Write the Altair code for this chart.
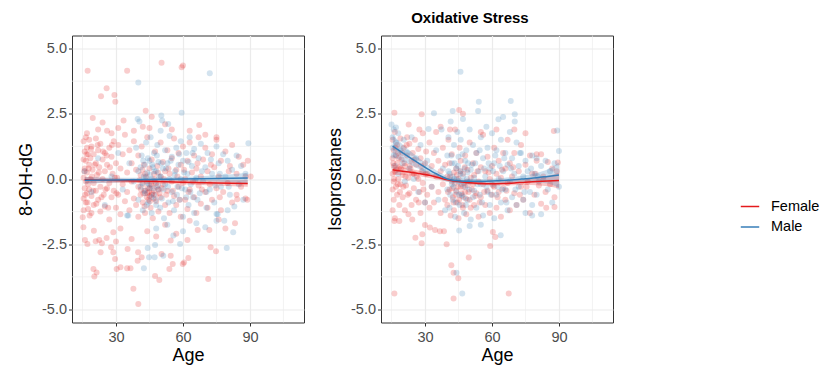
import altair as alt
import pandas as pd

SEXES = ["Female", "Male"]
SEX_COLORS = ["#E41A1C", "#377EB8"]

MAJOR_X = [30, 60, 90]
MINOR_X = [15, 45, 75, 105]
MAJOR_Y = [-5.0, -2.5, 0.0, 2.5, 5.0]
MINOR_Y = [-3.75, -1.25, 1.25, 3.75]

# ---------- 8-OH-dG panel: (age, value) ----------
ohdg_female = [
    (15.5, 1.45), (15.5, 0.75), (15.5, 0.05), (15.5, -0.75), (15.5, -1.2), (16, 1.05), (16, 0.4), (16, -0.35),
    (16.5, 1.6), (16.5, 0.7), (16.5, -0.1), (16.5, -0.9), (17, 1.2), (17, 0.25), (17, -0.55), (17.5, 0.95),
    (17.5, -0.2), (17.5, -1.15), (18, 1.5), (18, 0.55), (18, -0.4), (18.5, 0.8), (18.5, 0.0), (19, 1.25),
    (19, -0.65), (19, -1.3), (19.5, 0.35), (20, 0.95), (20, -0.15), (20, -1.0), (21, 1.55), (21, 0.6),
    (21, -0.45), (21.5, 0.15), (22, 1.1), (22, -0.8), (22.5, 0.45), (23, 1.35), (23, -0.3), (23, -1.25),
    (24, 0.75), (24, 0.0), (24.5, -0.6), (25, 1.0), (25, 0.3), (25, -1.05), (26, 1.85), (26, 0.55),
    (26, -0.35), (27, 1.2), (27, -0.15), (27, -1.55), (28, 0.85), (28, -0.7), (28.5, 0.2), (29, 1.45),
    (29, -0.45), (30, 0.6), (30, -1.1), (30.5, 0.05), (31, 1.3), (31, -0.6), (32, 0.4), (32, -1.35),
    (33, 0.95), (33, -0.2), (34, 1.7), (34, -0.85), (35, 0.25), (35, -0.5), (36, 1.1), (36, -1.2),
    (37, 0.6), (37, -0.1), (38, 1.45), (38, -0.75), (39, 0.35), (39, -1.0), (40, 0.9), (40, -0.3),
    (40, -1.45), (41, 0.15), (41, -0.6), (41.5, 1.25), (42, -0.2), (42, -0.9), (42.5, 0.55), (43, -0.45),
    (43, -1.3), (43.5, 0.1), (44, 1.6), (44, -0.55), (44, -0.1), (44.5, -0.8), (45, 0.4), (45, -0.35),
    (45, -0.65), (45.5, -1.1), (46, 0.75), (46, -0.25), (46, -0.6), (46.5, -1.5), (47, 0.2), (47, -0.45),
    (47.5, 1.05), (48, -0.15), (48, -0.85), (48.5, 0.5), (49, -0.4), (49, -1.25), (50, 1.4), (50, 0.1),
    (50, -0.7), (51, 0.65), (51, -0.2), (52, -1.0), (52, 0.3), (53, 1.1), (53, -0.45), (54, 0.2),
    (54, -1.3), (55, 0.8), (55, -0.1), (56, 1.55), (56, -0.65), (57, 0.35), (57, -1.0), (58, 1.0),
    (58, -0.3), (59, 0.55), (59, -1.45), (60, 1.25), (60, -0.15), (61, 0.0), (61, -0.8), (62, 0.7),
    (62, -1.15), (63, 1.4), (63, -0.4), (64, 0.25), (65, -0.7), (65, 0.9), (66, -1.3), (66, 0.4),
    (67, 1.6), (67, -0.25), (68, 0.1), (68, -0.95), (69, 0.75), (70, -0.5), (70, 1.2), (71, 0.3),
    (71, -1.1), (72, -0.2), (73, 0.95), (73, -0.8), (74, 0.45), (75, -0.35), (75, 1.5), (76, 0.1),
    (77, -1.2), (77, 0.7), (78, -0.5), (79, 1.05), (80, -0.15), (81, 0.5), (82, -0.9), (82, 1.3),
    (84, 0.2), (84, -0.6), (85, 0.85), (86, -0.3), (87, 0.55), (88, 0.1), (88, -0.75), (89, 0.7),
    (17.3, 4.15), (35, 4.15), (50.4, 4.46), (59.4, 4.28), (60, 4.35), (25.8, 3.48), (23.3, 3.17), (29.3, 3.22),
    (29.7, 2.96), (43.3, 2.62), (19.6, 2.34), (24, 2.17), (46, 2.39), (67.3, 2.07), (33.4, 2.24), (90.3, 0.1),
    (40, -4.79), (37.8, -4.21), (20.3, -3.74), (19.9, -3.45), (21.3, -3.58), (30.3, -3.45), (32, -3.38), (35, -3.42),
    (36.5, -3.42), (47.5, -3.72), (49.4, -3.87), (71.3, -3.83), (53.9, -3.45), (55.4, -3.26), (59.9, -3.26), (60.5, -3.2),
    (62.4, -3.03), (29.6, -3.07), (39.7, -3.13), (41.5, -3.0), (50.4, -2.87), (54.5, -2.94), (28.8, -2.81), (23.1, -2.81),
    (27.8, -2.62), (35.2, -2.68), (39.9, -2.81), (62, -2.34), (72.4, -2.62), (74.8, -2.77), (22.5, -2.34), (23.7, -2.46),
    (20.9, -2.39), (17.2, -2.49), (16.1, -2.34), (25.8, -2.26), (20.1, -1.98), (15.4, -1.85), (15.1, -1.47), (28.8, -2.04),
    (54.5, -2.36), (83.3, -1.7), (71.8, -1.95), (66.6, -1.95), (88.8, -0.8), (84.3, -0.78), (32, -1.9), (44, -2.0),
    (52, -1.75), (63, -1.6), (76, -1.55), (79, -1.9), (57, -2.1), (48, -2.2), (37, -2.3), (30, -2.4),
    (22, 1.9), (28, 1.75), (38, 1.85), (42, 2.0), (55, 1.9), (63, 1.85), (70, 1.7), (75, 1.6),
    (52, 2.1), (31, 1.95), (17, 1.75), (45, 1.95),
]
ohdg_female_core = [
    (15.8, 0.3), (16.2, -0.6), (16.8, 0.95), (17.2, -0.9), (17.8, 0.4), (18.2, -1.4), (18.8, 1.15), (19.2, 0.1),
    (19.8, -0.45), (20.5, 0.55), (21.2, -0.95), (21.8, 1.3), (22.3, 0.25), (23.5, -0.7), (24.2, 1.05), (25.3, -0.4),
    (25.8, 0.9), (26.5, -1.1), (27.3, 0.45), (28.2, 1.3), (29.5, 0.05), (30.2, -0.55),
    (40.5, -0.05), (41.2, -0.4), (41.8, 0.35), (42.3, -0.55), (42.8, -1.05), (43.2, 0.2), (43.8, -0.7), (44.2, -0.35),
    (44.7, -0.5), (45.2, -0.85), (45.7, -0.2), (46.2, -0.55), (46.8, -0.75), (47.2, 0.0), (47.8, -0.6), (48.3, -0.3),
    (48.8, 0.25), (49.5, -0.55), (50.5, -0.35), (51.5, 0.0), (52.5, -0.6), (53.5, 0.4), (55.5, -0.45), (57.5, 0.1),
    (58.5, -0.8), (60.5, 0.35), (62.5, -0.5), (64.5, -0.1), (66.5, 0.6), (68.5, -0.4), (72.5, 0.55), (76.5, -0.7),
    (80.5, 0.3),
]

ohdg_male = [
    (16, 0.3), (19, -0.5), (22, 0.8), (25, -1.0), (28, 0.1), (31, 1.0), (33, -0.4), (35, -1.4),
    (36, 0.6), (38, -0.1), (39, 1.2), (40, -0.8), (40, 0.3), (41, -0.3), (41.5, 0.9), (42, -1.2),
    (42.5, 0.1), (43, 0.55), (43, -0.55), (43.5, 1.4), (44, -0.15), (44, 0.25), (44.5, -0.9), (45, 0.7),
    (45, -0.35), (45.5, 1.6), (46, 0.0), (46, -1.3), (46.5, 0.45), (47, -0.6), (47, 1.0), (47.5, -0.1),
    (48, 0.3), (48, -1.0), (48.5, 1.3), (49, -0.4), (49, 0.65), (50, 0.1), (50, 1.85), (50.5, -0.75),
    (51, 0.4), (51.5, -1.5), (52, 1.1), (52, -0.2), (53, 0.6), (53.5, -0.9), (54, 1.65), (54, 0.0),
    (55, -0.5), (55, 0.85), (56, -1.2), (56.5, 0.3), (57, 1.2), (57.5, -0.3), (58, 0.55), (58.5, -0.8),
    (59, 1.45), (59, 0.0), (60, -1.45), (60, 0.7), (61, -0.4), (61.5, 1.0), (62, 0.2), (62.5, -1.0),
    (63, 1.6), (63.5, -0.2), (64, 0.5), (64.5, -0.7), (65, 1.15), (65, -1.3), (66, 0.05), (67, 0.8),
    (67.5, -0.55), (68, 1.35), (69, -0.1), (70, 0.45), (70.5, -1.1), (71, 1.0), (72, -0.4), (73, 0.2),
    (74, -0.9), (75, 1.25), (75.5, -1.35), (76, 0.6), (77, -0.3), (78, 0.95), (78.5, -1.6), (79, 0.1),
    (80, 0.7), (81, -0.6), (82, 0.35), (83, -1.05), (84, 0.9), (85, -0.2), (86, 0.5), (87, -0.8),
    (88, 0.2),
    (72, 4.05), (40, 3.7), (39.7, 2.3), (40.5, 2.2), (59.4, 2.54), (50.3, 2.43), (50.7, 2.24), (53.4, 2.11),
    (89.3, 1.37), (42.5, -3.42), (44.8, -3.0), (47.3, -3.0), (51.2, -2.94), (44.2, -2.64), (47.5, -2.53), (58.7, -2.49),
    (79.6, -2.64), (55.7, -2.17), (82.5, -2.04), (35.5, -1.4), (75, -1.34), (66, -1.7), (70, -1.85), (48, -1.9),
    (53, -1.75), (60, -2.0), (75, -1.6), (80, -1.2),
]
ohdg_male_core = [
    (41, 0.45), (41.8, -0.15), (42.2, 0.7), (42.7, -0.45), (43.3, 0.05), (43.7, -1.0), (44.3, 0.8), (44.8, -0.2),
    (45.3, 0.15), (45.8, -0.7), (46.3, 0.55), (46.8, -0.35), (47.3, 0.3), (47.8, -0.8), (48.3, 0.9), (48.8, -0.25),
    (49.3, 0.1), (49.8, -1.1), (50.3, 0.6), (51.3, -0.4), (52.5, 0.4), (53.3, -0.3), (54.5, 0.7), (55.5, -0.85),
    (56.3, 0.15), (57.3, -0.6), (58.3, 0.95), (59.5, -0.35), (60.5, 0.25), (61.5, -0.7), (62.5, 0.65), (63.3, -0.5),
    (64.3, 1.0), (65.5, -0.05), (66.5, -0.8), (68.5, 0.3), (70.5, -0.5), (72.5, 0.75), (74.5, -0.25), (76.5, 0.2),
    (80.5, -0.3),
]

# ---------- Isoprostanes panel: (age, value) ----------
iso_female = [
    (15.5, 1.5), (15.5, 0.8), (15.5, 0.2), (15.5, -0.4), (15.5, -1.2), (16, 1.1), (16, 0.5), (16, -0.1),
    (16, -0.8), (16.5, 1.8), (16.5, 0.3), (16.5, -1.5), (17, 0.9), (17, -0.3), (17.5, 1.3), (17.5, 0.6),
    (17.5, -0.6), (18, 0.0), (18, 1.0), (18.5, -1.0), (18.5, 0.45), (19, 1.55), (19, -0.2), (19.5, 0.75),
    (20, -0.7), (20, 0.15), (20.5, 1.2), (21, 0.5), (21, -1.2), (21.5, -0.25), (22, 0.9), (22, 1.6),
    (22.5, 0.05), (23, -0.55), (23, 1.35), (23.5, 0.4), (24, -1.0), (24, 0.7), (24.5, 1.0), (25, -0.35),
    (25, 0.2), (25.5, 1.5), (26, -0.8), (26, 0.55), (27, 0.0), (27, 1.15), (27.5, -0.5), (28, 0.8),
    (28, -1.3), (28.5, 0.3), (29, 1.75), (29, -0.15), (30, 0.6), (30, -0.9), (30.5, 1.05), (31, 0.2),
    (31, -0.6), (32, 1.4), (32, -1.1), (33, 0.5), (33, -0.3), (34, 1.0), (34, -0.9), (35, 0.1),
    (35, 1.8), (36, -0.5), (36, 0.7), (37, -1.3), (37, 0.3), (38, 1.2), (38, -0.2), (39, -0.8),
    (39, 0.55), (40, 0.1), (40, -1.0), (40.5, 1.5), (41, -0.4), (41, 0.6), (41.5, -1.4), (42, -0.1),
    (42, 0.95), (42.5, -0.7), (43, 0.25), (43, -1.2), (43.5, 1.9), (44, -0.45), (44, 0.4), (44.5, -0.9),
    (45, 0.0), (45, -1.5), (45.5, 1.2), (46, -0.3), (46, 0.7), (46.5, -0.65), (47, 0.2), (47, -1.1),
    (47.5, -0.15), (48, 0.9), (48, -0.5), (48.5, -1.35), (49, 0.35), (49, -0.25), (50, 1.4), (50, -0.8),
    (50.5, 0.05), (51, -0.4), (51.5, 0.6), (52, -1.0), (52, 0.15), (53, 1.0), (53, -0.55), (54, -0.1),
    (54, -1.45), (55, 0.45), (55, -0.7), (56, 1.7), (56, -0.2), (57, -1.0), (57, 0.3), (58, -0.45),
    (58, 0.85), (59, -1.3), (59, 0.0), (60, 0.5), (60, -0.6), (61, 1.2), (61, -0.3), (62, -1.1),
    (62, 0.2), (63, 0.7), (63, -0.5), (64, -1.45), (64, 0.05), (65, 1.0), (65, -0.35), (66, -0.8),
    (66, 0.4), (67, 1.5), (67, -0.15), (68, -1.2), (68, 0.6), (69, 0.1), (70, -0.55), (70, 1.0),
    (71, -1.0), (72, 0.3), (73, -0.3), (73, 1.3), (74, -0.8), (75, 0.55), (76, -0.1), (77, -1.3),
    (77, 0.9), (78, 0.2), (79, -0.6), (80, 0.7), (81, -0.25), (82, 0.95), (82, -0.95), (83, 0.1),
    (84, -0.5), (85, 0.65), (86, -0.2), (87, 0.4), (88, -0.7), (89, 0.3),
    (16.3, -4.39), (42.8, -4.58), (67.5, -4.39), (41.8, -3.31), (42.8, -3.59), (44.9, -3.8), (49.6, -3.01), (39.7, -2.5),
    (59.2, -2.57), (60.4, -2.03), (61.5, -2.22), (25.7, -2.25), (28.8, -2.12), (28.5, -2.46), (16.3, -1.61), (18.5, -1.61),
    (22.6, -1.35), (24.3, -1.55), (30, -1.76), (32.2, -1.86), (34.5, -1.95), (36.7, -2.0), (38.5, -2.0), (45.3, 2.64),
    (16.3, 2.54), (28.5, 2.48), (87.7, 1.84), (89.5, 0.63), (88, -1.07), (84.3, -1.1), (22.7, 2.09), (27.5, 1.9),
    (41.2, 1.9), (47, 2.5), (55, 1.8), (62, 1.9), (70, 1.9), (75, 1.75), (80, 0.95), (37, 2.0),
]
iso_female_core = [
    (15.8, 0.6), (16.2, 0.0), (16.8, 1.2), (17.2, 0.35), (17.8, -0.2), (18.2, 0.8), (18.8, -0.5), (19.2, 0.4),
    (19.8, 1.0), (20.3, -0.3), (20.8, 0.6), (21.3, 0.1), (21.8, 1.3), (22.3, -0.6), (23.2, 0.5), (24.3, 0.2),
    (25.2, 0.75), (26.3, 0.1), (27.2, -0.9), (28.3, 0.5), (29.3, -0.4), (30.3, 0.2),
    (40.3, -0.5), (41.3, 0.1), (42.3, -0.35), (42.8, -0.9), (43.3, -0.15), (43.8, -0.6), (44.3, 0.15), (44.8, -0.3),
    (45.3, -0.8), (45.8, 0.3), (46.3, -0.55), (46.8, -1.0), (47.3, -0.3), (47.8, 0.45), (48.3, -0.75), (48.8, -0.1),
    (49.5, -0.5), (50.5, -1.1), (51.5, -0.2), (52.5, -0.65), (53.5, 0.3), (54.5, -0.9), (56.5, -0.5), (58.5, 0.25),
    (60.5, -0.25), (62.5, -0.7), (64.5, 0.35), (66.5, -0.45), (69.5, 0.45), (72.5, -0.6), (75.5, -0.3), (79.5, 0.2),
]

iso_male = [
    (15, 2.09), (17, 1.97), (15.5, 1.6), (15.5, 1.2), (16, 0.9), (16, 1.9), (16.5, 0.5), (17, 1.4),
    (18, 0.2), (18, 1.75), (19, 1.1), (20, 0.6), (20.5, 1.5), (21, -0.1), (22, 1.0), (23, 0.4),
    (24, 1.6), (25, 0.0), (26, 0.8), (27, -0.5), (28, 1.3), (29, 0.3), (30, -0.9), (31.6, 1.92),
    (31, 0.7), (33, -0.3), (34, 2.52), (35, 1.1), (36, -0.8), (37.4, 1.9), (38, 0.4), (39, -1.2),
    (40, 0.9), (40, -0.4), (40.5, 1.6), (41, 0.2), (41, -1.1), (41.5, 2.2), (42, -0.2), (42, 0.6),
    (42.4, 2.61), (42.5, -0.8), (43, 1.3), (43, 0.0), (43.5, -1.45), (44, 0.4), (44, -0.5), (44.5, 1.8),
    (45, -0.1), (45, 0.85), (45.5, -1.0), (46, 0.3), (46, 1.5), (46.5, -0.6), (47, 0.1), (47, 2.3),
    (47.5, -1.3), (48, 0.7), (48, -0.3), (48.5, 1.1), (49, -0.8), (49, 0.25), (50, 1.9), (50, -0.1),
    (50.5, -1.55), (51, 0.55), (51.5, 1.3), (52, -0.45), (52, 0.05), (53, 1.0), (53, -1.1), (53.8, 2.61),
    (54, 0.3), (54.1, 2.96), (54.5, -0.6), (55, 1.6), (55, -0.2), (56, 0.8), (56, -1.4), (57, 0.1),
    (57.5, 2.0), (58, -0.5), (58, 1.2), (59, 0.4), (59, -1.0), (60, 1.75), (60, -0.2), (61, 0.6),
    (61, -1.5), (62, 1.1), (62, -0.6), (62.9, 2.29), (63, 0.0), (64, 1.5), (64, -0.9), (65, 2.38),
    (65, 0.3), (66, -0.4), (66, 1.0), (67, -1.2), (67, 0.55), (68, 1.8), (68.4, 2.99), (68, -0.1),
    (69, 0.8), (69, -0.7), (70.2, 2.48), (70.2, 2.2), (70, 0.2), (71, -1.0), (71, 1.4), (72, 0.5),
    (72, -0.3), (73, 1.0), (74, -0.8), (74, 0.1), (75, 0.7), (75, -1.3), (76, 0.3), (77, -0.5),
    (78, 0.9), (78, -1.0), (79, 0.2), (80, 0.8), (80, -0.6), (81, -0.1), (82, 0.5), (82, -1.35),
    (83, 0.0), (84, 0.7), (85, -0.4), (86, 0.3), (87, -0.9), (88, 0.6), (89.2, 1.86), (90, 1.07),
    (90, -0.3),
    (45.9, 4.11), (46.7, -4.39), (44.1, -3.59), (45.3, -1.97), (63.9, -2.16), (78, -1.4), (50, -1.8), (55, -1.75),
]
iso_male_core = [
    (40.5, 0.3), (41.3, -0.6), (41.8, 0.9), (42.3, 0.1), (42.8, -0.3), (43.3, 0.6), (43.8, -0.9), (44.3, 0.0),
    (44.8, 0.5), (45.3, -0.6), (45.8, 0.2), (46.3, -0.2), (46.8, 0.95), (47.3, -0.7), (47.8, 0.4), (48.3, -1.0),
    (48.8, 0.0), (49.3, 0.6), (49.8, -0.4), (50.5, 0.35), (51.5, -0.7), (52.5, 0.6), (53.5, -0.2), (54.5, 1.1),
    (55.5, -0.9), (56.5, 0.4), (57.5, -0.3), (58.5, 0.6), (59.5, -0.6), (60.5, 0.3), (61.5, 0.9), (62.5, -0.3),
    (63.5, 0.5), (64.5, -0.4), (65.5, 0.8), (66.5, -0.9), (68.5, 0.4), (70.5, -0.4), (72.5, 1.0), (74.5, -0.5),
    (77.5, 0.4), (80.5, 0.1),
]

# ---------- smooth fits: (age, fit, lower, upper) ----------
ohdg_female_fit = [(16, -0.03, -0.15, 0.09), (30, -0.06, -0.14, 0.02), (45, -0.09, -0.16, -0.02),
                   (60, -0.12, -0.2, -0.04), (75, -0.15, -0.25, -0.05), (89, -0.17, -0.3, -0.04)]
ohdg_male_fit = [(16, -0.05, -0.18, 0.08), (30, -0.04, -0.13, 0.05), (45, -0.02, -0.09, 0.05),
                 (60, 0.0, -0.08, 0.08), (75, 0.02, -0.1, 0.14), (89, 0.04, -0.16, 0.24)]
iso_female_fit = [(15.5, 0.35, 0.15, 0.55), (20, 0.3, 0.15, 0.45), (25, 0.24, 0.12, 0.36), (30, 0.17, 0.07, 0.27),
                  (35, 0.08, -0.01, 0.17), (40, -0.03, -0.1, 0.04), (45, -0.1, -0.16, -0.04), (50, -0.14, -0.2, -0.08),
                  (55, -0.17, -0.23, -0.11), (60, -0.18, -0.25, -0.11), (65, -0.17, -0.25, -0.09), (70, -0.15, -0.24, -0.06),
                  (75, -0.12, -0.23, -0.01), (80, -0.1, -0.24, 0.04), (85, -0.08, -0.28, 0.12), (90, -0.06, -0.36, 0.24)]
iso_male_fit = [(15.5, 1.26, 0.85, 1.70), (20, 1.0, 0.68, 1.32), (25, 0.72, 0.48, 0.96), (30, 0.45, 0.27, 0.63),
                (35, 0.2, 0.06, 0.34), (40, 0.0, -0.11, 0.11), (45, -0.07, -0.17, 0.03), (50, -0.09, -0.18, 0.0),
                (55, -0.09, -0.18, 0.0), (60, -0.08, -0.17, 0.01), (65, -0.06, -0.16, 0.04), (70, -0.03, -0.14, 0.08),
                (75, 0.01, -0.12, 0.14), (80, 0.05, -0.13, 0.23), (85, 0.1, -0.17, 0.37), (90, 0.15, -0.33, 0.63)]

FONT = "Liberation Sans"


def points_df(pairs, sex):
    return pd.DataFrame({"age": [p[0] for p in pairs], "val": [p[1] for p in pairs], "sex": sex})


def fit_df(rows, sex):
    return pd.DataFrame({"age": [r[0] for r in rows], "fit": [r[1] for r in rows],
                         "lo": [r[2] for r in rows], "hi": [r[3] for r in rows], "sex": sex})


x_scale = alt.Scale(domain=[10.3, 114.2], nice=False, zero=False)
y_scale = alt.Scale(domain=[-5.5, 5.5], nice=False, zero=False)
x_axis = alt.Axis(values=MAJOR_X, format="d", title="Age")
legend = alt.Legend(title=None, orient="none", legendX=668, legendY=161, symbolType="stroke",
                    symbolSize=340, symbolStrokeWidth=1.5, symbolOpacity=1, labelFontSize=14.5,
                    labelFont=FONT, labelColor="black", labelOffset=11, rowPadding=3.5, padding=0)
color = alt.Color("sex:N", scale=alt.Scale(domain=SEXES, range=SEX_COLORS), legend=legend)


def panel(fp, mp, ff, mf, ytitle, title=None):
    y_axis = alt.Axis(values=MAJOR_Y, format=".1f", title=ytitle,
                      labelExpr="replace(datum.label, '\u2212', '-')")
    X = lambda f: alt.X(f, type="quantitative", scale=x_scale, axis=x_axis, title="Age")
    Y = lambda f: alt.Y(f, type="quantitative", scale=y_scale, axis=y_axis, title=ytitle)

    pts = pd.concat([points_df(fp, "Female"), points_df(mp, "Male")])
    fits = pd.concat([fit_df(ff, "Female"), fit_df(mf, "Male")])

    gx = alt.Chart(pd.DataFrame({"gx": MINOR_X})).mark_rule(color="#EBEBEB", strokeWidth=0.6).encode(x=X("gx"))
    gy = alt.Chart(pd.DataFrame({"gy": MINOR_Y})).mark_rule(color="#EBEBEB", strokeWidth=0.6).encode(y=Y("gy"))
    dots = alt.Chart(pts).mark_circle(size=36, opacity=0.22).encode(x=X("age"), y=Y("val"), color=color)
    band = alt.Chart(fits).mark_area(opacity=0.25, interpolate="monotone").encode(
        x=X("age"), y=Y("lo"), y2="hi", color=color)
    line = alt.Chart(fits).mark_line(strokeWidth=1.5, interpolate="monotone").encode(
        x=X("age"), y=Y("fit"), color=color)
    props = dict(width=232, height=287)
    if title:
        props["title"] = alt.TitleParams(text=title, anchor="middle", frame="bounds", fontSize=15,
                                         fontWeight="bold", font=FONT, color="black", offset=9)
    return alt.layer(gx, gy, dots, band, line).properties(**props)


left = panel(ohdg_female + ohdg_female_core, ohdg_male + ohdg_male_core,
             ohdg_female_fit, ohdg_male_fit, "8-OH-dG")
right = panel(iso_female + iso_female_core, iso_male + iso_male_core,
              iso_female_fit, iso_male_fit, "Isoprostanes", title="Oxidative Stress")

chart = alt.hconcat(left, right, spacing=21).properties(
    padding={"left": 17, "top": 10.5, "right": 0, "bottom": 0}
).configure_view(
    stroke="#333333", strokeWidth=1
).configure_axis(
    labelFont=FONT, labelFontSize=14.5, labelColor="#4D4D4D", labelPadding=2,
    titleFont=FONT, titleFontSize=18, titleColor="black", titleFontWeight="normal",
    tickColor="#333333", tickSize=3.5, tickWidth=1, domain=False,
    gridColor="#EBEBEB", gridWidth=1.2,
).configure_axisY(titlePadding=6).configure_axisX(labelPadding=4, titlePadding=2.5)

chart.save("out.html", embed_options={"renderer": "svg", "actions": False})
